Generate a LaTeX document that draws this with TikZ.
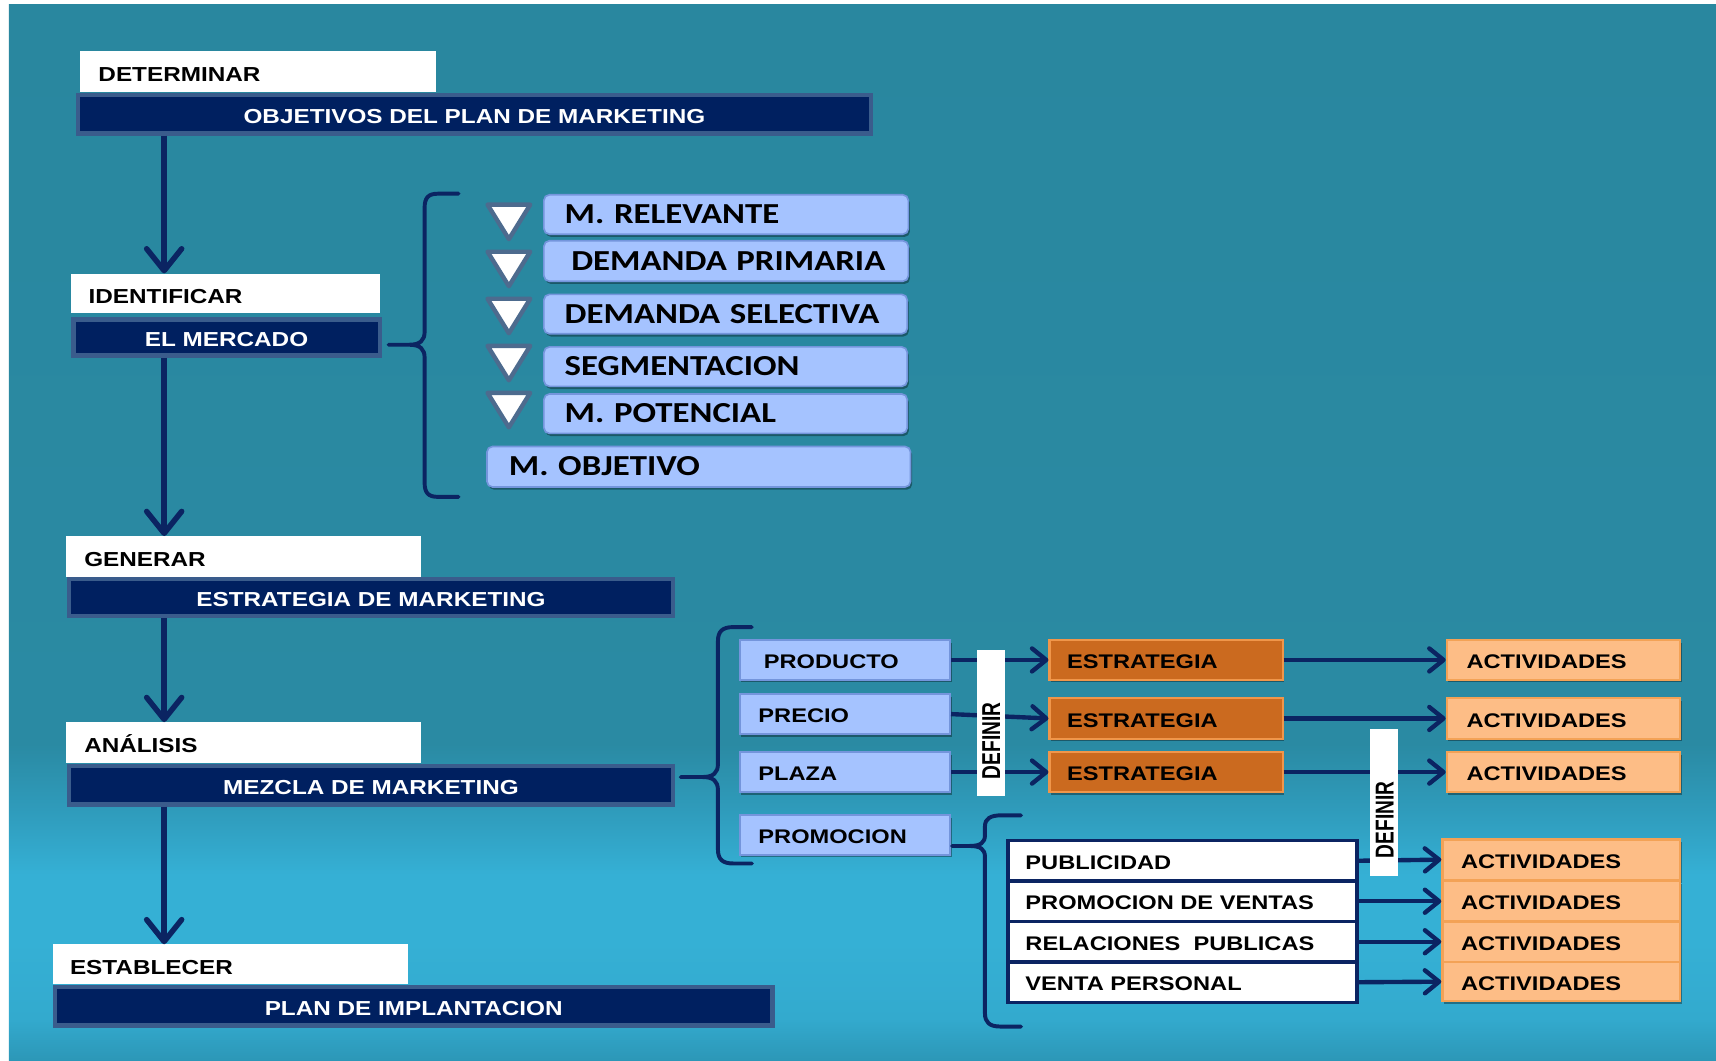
\documentclass[tikz,border=0pt]{standalone}
\usepackage{fontspec}
\usepackage{graphicx}
\usetikzlibrary{arrows.meta,shadows,calc}

\newfontfamily\arialw{Liberation Sans}[FakeStretch=1.2]
\newfontfamily\arialn{Liberation Sans}
\newfontfamily\calw{Carlito}[FakeStretch=1.2]

\definecolor{navyfill}{HTML}{002060}
\definecolor{navyline}{HTML}{0B2462}
\definecolor{slate}{HTML}{3A5C8C}
\definecolor{skyfill}{HTML}{A5C3FF}
\definecolor{skyline}{HTML}{7495DC}
\definecolor{rust}{HTML}{CB6A1F}
\definecolor{rustline}{HTML}{F0964A}
\definecolor{peach}{HTML}{FDBD86}
\definecolor{peachline}{HTML}{F3A256}
\definecolor{triline}{HTML}{4D6B8E}
\definecolor{bgTop}{HTML}{29879F}
\definecolor{bgMid}{HTML}{2A8AA3}
\definecolor{bgRise}{HTML}{2F9BBB}
\definecolor{bgLight}{HTML}{35B0D5}
\definecolor{bgLow}{HTML}{33AACE}
\definecolor{bgBot}{HTML}{2C97B7}

% backdrop: flat teal on top, brighter cyan band towards the bottom
\pgfdeclareverticalshading{bgfade}{100bp}{color(0bp)=(bgBot); color(25bp)=(bgBot);
  color(27bp)=(bgLow); color(30.6bp)=(bgLight); color(33.8bp)=(bgLight);
  color(36.9bp)=(bgRise); color(40bp)=(bgMid); color(75bp)=(bgTop); color(100bp)=(bgTop)}

\tikzset{
  capsA/.style={font=\arialw\bfseries\fontsize{18.5}{20}\selectfont, text height=16.6pt, text depth=0pt},
  capsB/.style={font=\arialw\bfseries\fontsize{18}{20}\selectfont, text height=15.9pt, text depth=0pt},
  tagbox/.style={capsA, fill=white, text=black, align=left, inner ysep=0pt, text height=18pt},
  navybox/.style={capsA, draw=slate, line width=4pt, fill=navyfill, text=white, inner sep=0pt},
  softshadow/.style={drop shadow={shadow xshift=1.5pt, shadow yshift=-2.5pt, opacity=0.35, fill=black}},
  skybox/.style={draw=skyline, line width=1.5pt, fill=skyfill, rounded corners=5pt, softshadow,
    font=\calw\bfseries\fontsize{26.5}{28}\selectfont, text height=16.7pt, text depth=0pt,
    align=left, inner ysep=0pt},
  mixbox/.style={capsB, draw=skyline, line width=2pt, fill=skyfill, softshadow, align=left, inner ysep=0pt},
  stratbox/.style={capsB, draw=rustline, line width=2pt, fill=rust, softshadow, align=left, inner ysep=0pt},
  actbox/.style={capsB, draw=peachline, line width=2pt, fill=peach, softshadow, align=left, inner ysep=0pt},
  promobox/.style={capsB, draw=navyline, line width=3.5pt, fill=white, align=left, inner ysep=0pt},
  defstrip/.style={fill=white, rotate=90, inner ysep=0pt, align=left,
    font=\arialn\bfseries\fontsize{17.5}{18}\selectfont, text height=16.9pt, text depth=0pt},
  brace/.style={draw=navyline, line width=3.6pt, line cap=round, line join=round},
  varrow/.style={draw=navyline, line width=5pt, -{Straight Barb[length=20pt,width=32pt,round]}},
  harrow/.style={draw=navyline, line width=4pt, -{Straight Barb[length=13pt,width=21pt,round]}},
  pointer/.style={draw=triline, fill=white, line width=4pt, line join=round}
}

\begin{document}
\begin{tikzpicture}[x=1pt,y=-1pt]
\useasboundingbox (0,0) rectangle (1568,969);
\fill[white] (0,0) rectangle (1568,969);
\shade[shading=bgfade] (8,4) rectangle (1568,969);

% ---- main sequence ----
\node[tagbox, minimum width=325pt, minimum height=37pt, text width=291pt, inner xsep=17pt] (det) at (235.5,65.5) {DETERMINAR};
\node[navybox, minimum width=725pt, minimum height=35pt] (obj) at (433.5,104.5) {OBJETIVOS DEL PLAN DE MARKETING};

\node[tagbox, minimum width=282pt, minimum height=36pt, text width=250pt, inner xsep=16pt] (ide) at (206,268) {IDENTIFICAR};
\node[navybox, minimum width=280pt, minimum height=33pt] (mer) at (207,308.5) {EL MERCADO};

\node[tagbox, minimum width=325pt, minimum height=37pt, text width=291pt, inner xsep=17pt] (gen) at (222.5,508.5) {GENERAR};
\node[navybox, minimum width=552pt, minimum height=34pt] (estm) at (339,546) {ESTRATEGIA DE MARKETING};

\node[tagbox, minimum width=325pt, minimum height=37pt, text width=291pt, inner xsep=17pt] (ana) at (222.5,678.5) {ANÁLISIS};
\node[navybox, minimum width=552pt, minimum height=35pt] (mez) at (339,717.5) {MEZCLA DE MARKETING};

\node[tagbox, minimum width=325pt, minimum height=36pt, text width=293pt, inner xsep=16pt] (est) at (210.5,881) {ESTABLECER};
\node[navybox, minimum width=656pt, minimum height=35pt] (plan) at (378,919.5) {PLAN DE IMPLANTACION};

\coordinate (spine) at (150,0);
\draw[varrow] (obj.south -| spine) -- (ide.north -| spine);
\draw[varrow] (mer.south -| spine) -- (gen.north -| spine);
\draw[varrow] (estm.south -| spine) -- (ana.north -| spine);
\draw[varrow] (mez.south -| spine) -- (est.north -| spine);

% ---- market breakdown ----
\draw[brace] (419,177) -- (400,177) .. controls (391,177) and (388,181) .. (388,190) -- (388,303)
  .. controls (388,311) and (384,315) .. (374,315) -- (355,315)
  -- (374,315) .. controls (384,315) and (388,319) .. (388,327) -- (388,441)
  .. controls (388,450) and (391,454) .. (400,454) -- (419,454);

\node[skybox, minimum width=333pt, minimum height=36pt, text width=295pt, inner xsep=19pt] (rel) at (663.5,196) {\mbox{M. RELEVANTE}};
\node[skybox, minimum width=333pt, minimum height=37pt, text width=283pt, inner xsep=25pt] (dpr) at (663.5,238.5) {\mbox{DEMANDA PRIMARIA}};
\node[skybox, minimum width=332pt, minimum height=36pt, text width=294pt, inner xsep=19pt] (dse) at (663,287) {\mbox{DEMANDA SELECTIVA}};
\node[skybox, minimum width=332pt, minimum height=36pt, text width=294pt, inner xsep=19pt] (seg) at (663,335) {\mbox{SEGMENTACION}};
\node[skybox, minimum width=332pt, minimum height=36pt, text width=294pt, inner xsep=19pt] (pot) at (663,378) {\mbox{M. POTENCIAL}};
\node[skybox, minimum width=387pt, minimum height=37pt, text width=347pt, inner xsep=20pt] (mob) at (638.5,426.5) {\mbox{M. OBJETIVO}};

\foreach \t in {185,228,271,314,357}
  \draw[pointer] (445.5,\t+2) -- (484.5,\t+2) -- (465,\t+33.5) -- cycle;

% ---- marketing mix ----
\draw[brace] (687,573) -- (670,573) .. controls (660,573) and (656,577) .. (656,586) -- (656,698)
  .. controls (656,706) and (652,710) .. (642,710) -- (622,710)
  -- (642,710) .. controls (652,710) and (656,714) .. (656,722) -- (656,776)
  .. controls (656,785) and (660,789) .. (670,789) -- (687,789);

\node[mixbox, minimum width=192pt, minimum height=36pt, text width=148pt, inner xsep=22pt] (pro) at (772,603) {PRODUCTO};
\node[mixbox, minimum width=192pt, minimum height=37pt, text width=158pt, inner xsep=17pt] (pre) at (772,652.5) {PRECIO};
\node[mixbox, minimum width=192pt, minimum height=37pt, text width=158pt, inner xsep=17pt] (pla) at (772,705.5) {PLAZA};
\node[mixbox, minimum width=192pt, minimum height=36pt, text width=158pt, inner xsep=17pt] (prm) at (772,763) {PROMOCION};

\node[stratbox, minimum width=213pt, minimum height=36pt, text width=181pt, inner xsep=16pt] (e1) at (1065.5,603) {ESTRATEGIA};
\node[stratbox, minimum width=213pt, minimum height=37pt, text width=181pt, inner xsep=16pt] (e2) at (1065.5,656.5) {ESTRATEGIA};
\node[stratbox, minimum width=213pt, minimum height=37pt, text width=181pt, inner xsep=16pt] (e3) at (1065.5,705.5) {ESTRATEGIA};

\node[actbox, minimum width=213pt, minimum height=36pt, text width=177pt, inner xsep=18pt] (a1) at (1428.5,603) {ACTIVIDADES};
\node[actbox, minimum width=213pt, minimum height=37pt, text width=177pt, inner xsep=18pt] (a2) at (1428.5,656.5) {ACTIVIDADES};
\node[actbox, minimum width=213pt, minimum height=37pt, text width=177pt, inner xsep=18pt] (a3) at (1428.5,705.5) {ACTIVIDADES};
\node[actbox, minimum width=217pt, minimum height=37pt, text width=183pt, inner xsep=17pt] (a4) at (1426.5,785.5) {ACTIVIDADES};
\node[actbox, minimum width=217pt, minimum height=37pt, text width=183pt, inner xsep=17pt] (a5) at (1426.5,823.5) {ACTIVIDADES};
\node[actbox, minimum width=217pt, minimum height=37pt, text width=183pt, inner xsep=17pt] (a6) at (1426.5,860.5) {ACTIVIDADES};
\node[actbox, minimum width=217pt, minimum height=36pt, text width=183pt, inner xsep=17pt] (a7) at (1426.5,897) {ACTIVIDADES};

% promotion tools
\draw[brace] (933,745) -- (915,745) .. controls (905,745) and (900,748) .. (900,755) -- (900,763)
  .. controls (900,770) and (896,773) .. (886,773) -- (870,773)
  -- (886,773) .. controls (896,773) and (900,776) .. (900,783) -- (900,926)
  .. controls (900,934) and (904,938) .. (914,938) -- (933,938);

\node[promobox, minimum width=319pt, minimum height=37pt, text width=287pt, inner xsep=16pt] (pub) at (1080.5,786.5) {PUBLICIDAD};
\node[promobox, minimum width=319pt, minimum height=37pt, text width=287pt, inner xsep=16pt] (pdv) at (1080.5,823.5) {PROMOCION DE VENTAS};
\node[promobox, minimum width=319pt, minimum height=37pt, text width=287pt, inner xsep=16pt] (rp) at (1080.5,860.5) {RELACIONES~~PUBLICAS};
\node[promobox, minimum width=319pt, minimum height=37pt, text width=287pt, inner xsep=16pt] (vp) at (1080.5,897.5) {VENTA PERSONAL};

% connectors
\draw[harrow] (pro.east) -- (e1.west);
\draw[harrow] (pre.east) -- (e2.west);
\draw[harrow] (pla.east) -- (e3.west);
\draw[harrow] (e1.east) -- (a1.west);
\draw[harrow] (e2.east) -- (a2.west);
\draw[harrow] (e3.east) -- (a3.west);
\draw[harrow] (pub.east) -- (a4.west);
\draw[harrow] (pdv.east) -- (a5.west);
\draw[harrow] (rp.east) -- (a6.west);
\draw[harrow] (vp.east) -- (a7.west);

% vertical captions laid over the connectors
\node[defstrip, minimum width=133pt, minimum height=26pt, text width=103pt, inner xsep=15pt] (def1) at (905.5,660.5) {\scalebox{1}[1.35]{DEFINIR}};
\node[defstrip, minimum width=134pt, minimum height=25.5pt, text width=102pt, inner xsep=16pt] (def2) at (1265,733) {\scalebox{1}[1.35]{DEFINIR}};
\end{tikzpicture}
\end{document}
